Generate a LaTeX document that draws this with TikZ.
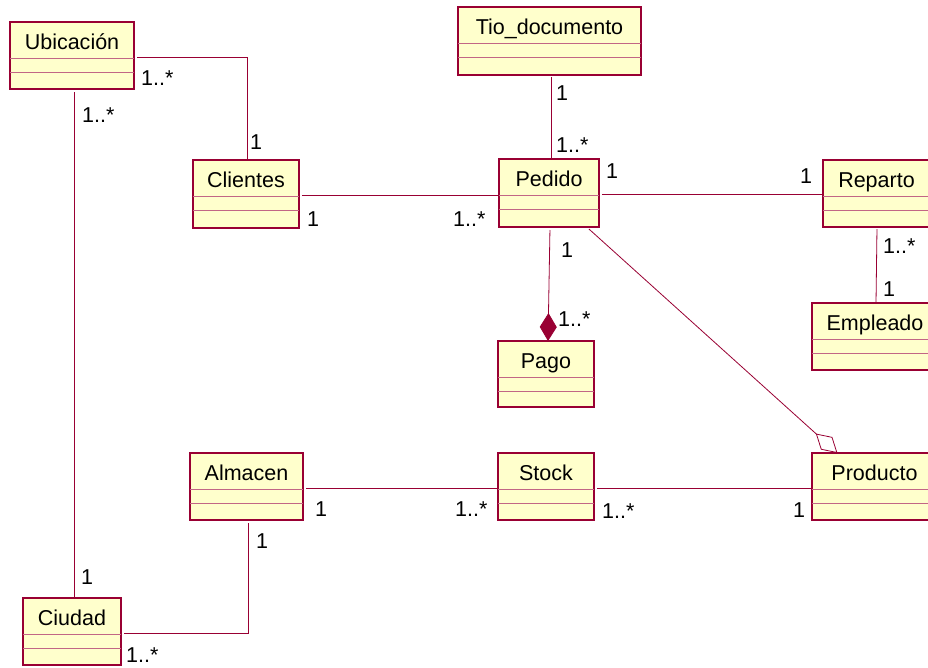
\documentclass[tikz,border=0pt]{standalone}
\usepackage{fontspec}
\setmainfont{Liberation Sans}
\usetikzlibrary{arrows.meta}
\definecolor{umlred}{RGB}{153,0,51}
\definecolor{umlfill}{RGB}{255,255,204}
\newcommand\umlclass[6]{%
  \node[umlbox, minimum width=#4pt, minimum height=#5pt] (#1) at (#2,#3) {};
  \node[classtitle] (#1-name) at ([yshift=-27.5pt]#1.north) {#6};
  \draw[divider] ([yshift=-36.5pt]#1.north west) -- ([yshift=-36.5pt]#1.north east);
  \draw[divider] ([yshift=-50pt]#1.north west) -- ([yshift=-50pt]#1.north east);
}
\begin{document}
\begin{tikzpicture}[x=1pt,y=-1pt,
  umlbox/.style={draw=umlred, fill=umlfill, line width=1.4pt, inner sep=0pt, outer sep=0pt, anchor=north west},
  classtitle/.style={anchor=base, font=\fontsize{21.5}{25}\selectfont, inner sep=0pt},
  divider/.style={draw=umlred!60, line width=0.9pt},
  assoc/.style={draw=umlred, line width=0.8pt},
  mult/.style={anchor=base west, font=\fontsize{21.5}{25}\selectfont, inner sep=0pt},
]
\fill[white] (0,0) rectangle (928,667);
\useasboundingbox (0,0) rectangle (928,667);

% classes
\umlclass{ubic}{10}{22}{124}{67}{Ubicación}
\umlclass{clientes}{193}{160}{106}{68}{Clientes}
\umlclass{tio}{458}{7}{183}{68}{Tio\_documento}
\umlclass{pedido}{499}{159}{100}{68}{Pedido}
\umlclass{reparto}{823}{160}{107}{67}{Reparto}
\umlclass{empleado}{812}{303}{126}{67}{Empleado}
\umlclass{pago}{498}{341}{96}{66}{Pago}
\umlclass{producto}{812}{453}{125}{67}{Producto}
\umlclass{almacen}{190}{453}{113}{67}{Almacen}
\umlclass{stock}{498}{453}{96}{67}{Stock}
\umlclass{ciudad}{23}{598}{98}{67}{Ciudad}

% connectors
\draw[assoc, shorten <=3pt] ([yshift=-1.5pt]ubic.east) -| ([xshift=1pt]clientes.north);
\draw[assoc, shorten <=3pt] ([xshift=2pt]ubic.south) -- ([xshift=2pt]ciudad.north);
\draw[assoc, shorten <=3pt] ([yshift=-1.5pt]clientes.east) -- ([yshift=-2.5pt]pedido.west);
\draw[assoc, shorten <=2pt] ([xshift=1.5pt]tio.south) -- ([xshift=2pt]pedido.north);
\draw[assoc, shorten <=3pt] ([yshift=-1pt]pedido.east) -- ([yshift=-0.5pt]reparto.west);
\draw[assoc, shorten <=2pt] ([xshift=0.5pt]reparto.south) -- ([xshift=1pt]empleado.north);
\draw[assoc, shorten <=3pt, -{Diamond[length=28pt,width=17pt,fill=umlred]}] ([xshift=1pt]pedido.south) -- ([xshift=2pt]pago.north);
\draw[assoc, shorten <=3pt, -{Diamond[open,length=29pt,width=17pt]}] (pedido) -- (producto);
\draw[assoc, shorten <=3pt] ([yshift=-1.5pt]almacen.east) -- ([yshift=-1.5pt]stock.west);
\draw[assoc, shorten <=3pt] ([yshift=-1.5pt]stock.east) -- ([yshift=-1.5pt]producto.west);
\draw[assoc, shorten <=3pt, shorten >=3pt] ([yshift=-1.5pt]ciudad.east) -| ([xshift=1.5pt]almacen.south);

% multiplicities
\node[mult] (m1) at (141,85) {1..*};
\node[mult] (m2) at (250,149) {1};
\node[mult] (m3) at (82,122) {1..*};
\node[mult] (m4) at (81,584) {1};
\node[mult] (m5) at (307,226) {1};
\node[mult] (m6) at (453,226) {1..*};
\node[mult] (m7) at (556,100) {1};
\node[mult] (m8) at (556,152) {1..*};
\node[mult] (m9) at (606,178) {1};
\node[mult] (m10) at (800,183) {1};
\node[mult] (m11) at (883,253) {1..*};
\node[mult] (m12) at (883,296) {1};
\node[mult] (m13) at (561,257) {1};
\node[mult] (m14) at (558,326) {1..*};
\node[mult] (m15) at (315,516) {1};
\node[mult] (m16) at (455,516) {1..*};
\node[mult] (m17) at (602,518) {1..*};
\node[mult] (m18) at (793,517) {1};
\node[mult] (m19) at (256,548) {1};
\node[mult] (m20) at (126,662) {1..*};
\end{tikzpicture}
\end{document}
